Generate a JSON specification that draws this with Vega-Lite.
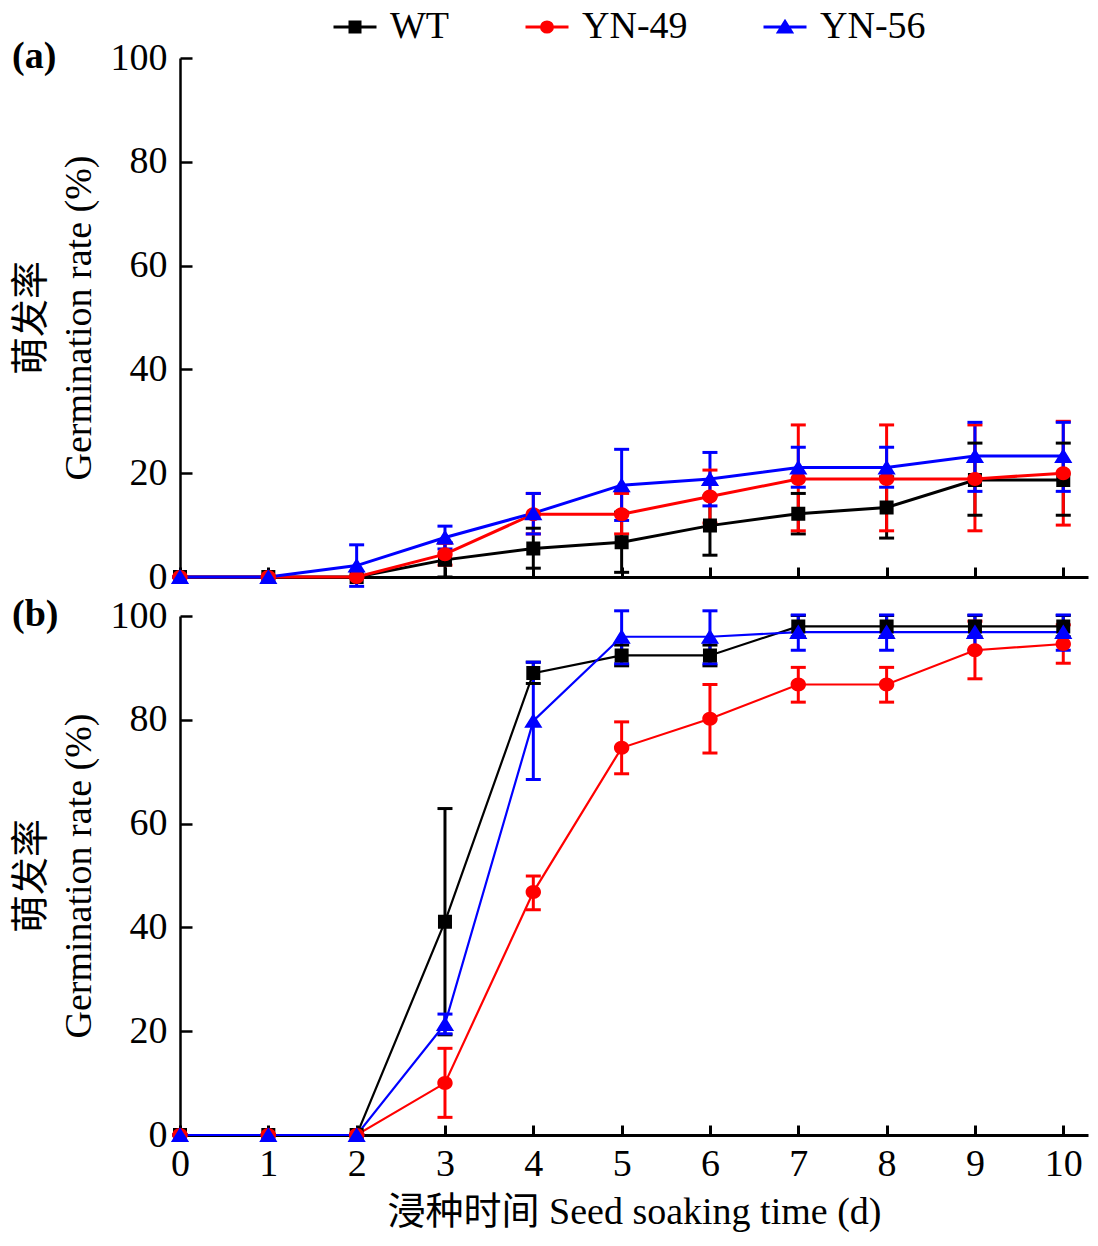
{
  "$schema": "https://vega.github.io/schema/vega-lite/v6.json",
  "background": "white",
  "padding": {"left": 12, "top": 8, "right": 5, "bottom": 5},
  "bounds": "flush",
  "spacing": 39,
  "datasets": {
    "a": [
      {"day": 0, "series": "WT", "rate": 0, "lo": 0, "hi": 0},
      {"day": 1, "series": "WT", "rate": 0, "lo": 0, "hi": 0},
      {"day": 2, "series": "WT", "rate": 0, "lo": 0, "hi": 0},
      {"day": 3, "series": "WT", "rate": 3.3, "lo": 0, "hi": 6.6},
      {"day": 4, "series": "WT", "rate": 5.5, "lo": 1.7, "hi": 9.4},
      {"day": 5, "series": "WT", "rate": 6.7, "lo": 0.9, "hi": 12.5},
      {"day": 6, "series": "WT", "rate": 9.9, "lo": 4.2, "hi": 15.6},
      {"day": 7, "series": "WT", "rate": 12.2, "lo": 8.3, "hi": 16.1},
      {"day": 8, "series": "WT", "rate": 13.4, "lo": 7.5, "hi": 19.3},
      {"day": 9, "series": "WT", "rate": 18.7, "lo": 11.9, "hi": 25.8},
      {"day": 10, "series": "WT", "rate": 18.7, "lo": 11.9, "hi": 25.8},
      {"day": 0, "series": "YN-49", "rate": 0, "lo": 0, "hi": 0},
      {"day": 1, "series": "YN-49", "rate": 0, "lo": 0, "hi": 0},
      {"day": 2, "series": "YN-49", "rate": 0, "lo": 0, "hi": 0},
      {"day": 3, "series": "YN-49", "rate": 4.4, "lo": 2.3, "hi": 6.5},
      {"day": 4, "series": "YN-49", "rate": 12.1, "lo": 8.3, "hi": 16.1},
      {"day": 5, "series": "YN-49", "rate": 12.1, "lo": 8.3, "hi": 16.1},
      {"day": 6, "series": "YN-49", "rate": 15.5, "lo": 10.4, "hi": 20.6},
      {"day": 7, "series": "YN-49", "rate": 18.9, "lo": 8.9, "hi": 29.3},
      {"day": 8, "series": "YN-49", "rate": 18.9, "lo": 8.9, "hi": 29.3},
      {"day": 9, "series": "YN-49", "rate": 18.9, "lo": 8.9, "hi": 29.3},
      {"day": 10, "series": "YN-49", "rate": 20.0, "lo": 10.0, "hi": 30.0},
      {"day": 0, "series": "YN-56", "rate": 0, "lo": 0, "hi": 0},
      {"day": 1, "series": "YN-56", "rate": 0, "lo": 0, "hi": 0},
      {"day": 2, "series": "YN-56", "rate": 2.2, "lo": -1.8, "hi": 6.2},
      {"day": 3, "series": "YN-56", "rate": 7.6, "lo": 5.4, "hi": 9.8},
      {"day": 4, "series": "YN-56", "rate": 12.3, "lo": 8.3, "hi": 16.1},
      {"day": 5, "series": "YN-56", "rate": 17.7, "lo": 10.9, "hi": 24.6},
      {"day": 6, "series": "YN-56", "rate": 18.9, "lo": 13.7, "hi": 24.0},
      {"day": 7, "series": "YN-56", "rate": 21.1, "lo": 17.3, "hi": 25.0},
      {"day": 8, "series": "YN-56", "rate": 21.1, "lo": 17.3, "hi": 25.0},
      {"day": 9, "series": "YN-56", "rate": 23.3, "lo": 16.5, "hi": 29.8},
      {"day": 10, "series": "YN-56", "rate": 23.3, "lo": 16.5, "hi": 29.8}
    ],
    "b": [
      {"day": 0, "series": "WT", "rate": 0, "lo": 0, "hi": 0},
      {"day": 1, "series": "WT", "rate": 0, "lo": 0, "hi": 0},
      {"day": 2, "series": "WT", "rate": 0, "lo": 0, "hi": 0},
      {"day": 3, "series": "WT", "rate": 41.1, "lo": 19.3, "hi": 62.9},
      {"day": 4, "series": "WT", "rate": 89.0, "lo": 87.0, "hi": 91.1},
      {"day": 5, "series": "WT", "rate": 92.4, "lo": 90.4, "hi": 94.4},
      {"day": 6, "series": "WT", "rate": 92.4, "lo": 90.4, "hi": 94.4},
      {"day": 7, "series": "WT", "rate": 98.0, "lo": 96.0, "hi": 100.1},
      {"day": 8, "series": "WT", "rate": 98.0, "lo": 96.0, "hi": 100.1},
      {"day": 9, "series": "WT", "rate": 98.0, "lo": 96.0, "hi": 100.1},
      {"day": 10, "series": "WT", "rate": 98.0, "lo": 96.0, "hi": 100.1},
      {"day": 0, "series": "YN-49", "rate": 0, "lo": 0, "hi": 0},
      {"day": 1, "series": "YN-49", "rate": 0, "lo": 0, "hi": 0},
      {"day": 2, "series": "YN-49", "rate": 0, "lo": 0, "hi": 0},
      {"day": 3, "series": "YN-49", "rate": 10.0, "lo": 3.4, "hi": 16.7},
      {"day": 4, "series": "YN-49", "rate": 46.8, "lo": 43.4, "hi": 49.9},
      {"day": 5, "series": "YN-49", "rate": 74.6, "lo": 69.6, "hi": 79.6},
      {"day": 6, "series": "YN-49", "rate": 80.2, "lo": 73.6, "hi": 86.8},
      {"day": 7, "series": "YN-49", "rate": 86.8, "lo": 83.4, "hi": 90.1},
      {"day": 8, "series": "YN-49", "rate": 86.8, "lo": 83.4, "hi": 90.1},
      {"day": 9, "series": "YN-49", "rate": 93.4, "lo": 87.9, "hi": 99.0},
      {"day": 10, "series": "YN-49", "rate": 94.6, "lo": 90.9, "hi": 98.3},
      {"day": 0, "series": "YN-56", "rate": 0, "lo": 0, "hi": 0},
      {"day": 1, "series": "YN-56", "rate": 0, "lo": 0, "hi": 0},
      {"day": 2, "series": "YN-56", "rate": 0, "lo": 0, "hi": 0},
      {"day": 3, "series": "YN-56", "rate": 21.4, "lo": 19.5, "hi": 23.3},
      {"day": 4, "series": "YN-56", "rate": 79.8, "lo": 68.5, "hi": 91.1},
      {"day": 5, "series": "YN-56", "rate": 96.0, "lo": 90.8, "hi": 101.0},
      {"day": 6, "series": "YN-56", "rate": 96.0, "lo": 90.8, "hi": 101.0},
      {"day": 7, "series": "YN-56", "rate": 96.9, "lo": 93.4, "hi": 100.2},
      {"day": 8, "series": "YN-56", "rate": 96.9, "lo": 93.4, "hi": 100.2},
      {"day": 9, "series": "YN-56", "rate": 96.9, "lo": 93.4, "hi": 100.2},
      {"day": 10, "series": "YN-56", "rate": 96.9, "lo": 93.4, "hi": 100.2}
    ]
  },
  "vconcat": [
    {
      "data": {"name": "a"},
      "width": 908,
      "height": 519,
      "title": {"text": "(a)", "orient": "top", "anchor": "start", "frame": "bounds", "baseline": "middle", "offset": -56, "fontSize": 38, "fontWeight": "bold", "font": "Liberation Serif", "color": "black"},
      "encoding": {
        "x": {"field": "day", "type": "quantitative", "scale": {"domain": [0, 10.28], "nice": false, "zero": false},
              "axis": {"values": [0,1,2,3,4,5,6,7,8,9,10], "labels": false, "title": null, "tickSize": -10, "domainWidth": 3, "tickWidth": 3}}
      },
      "layer": [
        {"mark": {"type": "rule", "strokeWidth": 3},
         "encoding": {"y": {"field": "lo", "type": "quantitative"}, "y2": {"field": "hi"},
                      "stroke": {"field": "series", "type": "nominal", "scale": {"domain": ["WT", "YN-49", "YN-56"], "range": ["#000000", "#ff0000", "#0000ff"]}, "legend": null}}},
        {"mark": {"type": "tick", "orient": "horizontal", "size": 15, "thickness": 3, "opacity": 1},
         "encoding": {"y": {"field": "lo", "type": "quantitative"}, "fill": {"field": "series", "type": "nominal", "scale": {"domain": ["WT", "YN-49", "YN-56"], "range": ["#000000", "#ff0000", "#0000ff"]}, "legend": null}}},
        {"mark": {"type": "tick", "orient": "horizontal", "size": 15, "thickness": 3, "opacity": 1},
         "encoding": {"y": {"field": "hi", "type": "quantitative"}, "fill": {"field": "series", "type": "nominal", "legend": null}}},
        {"mark": {"type": "line", "strokeWidth": 3},
         "encoding": {"y": {"field": "rate", "type": "quantitative"}, "stroke": {"field": "series", "type": "nominal", "legend": null}}},
        {"mark": {"type": "point", "filled": true, "strokeWidth": 0, "opacity": 1, "size": 196},
         "encoding": {
           "y": {"field": "rate", "type": "quantitative",
                 "scale": {"domain": [0, 100], "nice": false},
                 "axis": {"values": [0,20,40,60,80,100], "title": ["萌发率", "Germination rate (%)"], "tickSize": -12, "labelPadding": 25}},
           "color": {"field": "series", "type": "nominal",
                     "scale": {"range": ["#000000", "#ff0000", "#0000ff"]},
                     "legend": {"orient": "none", "legendX": 156, "legendY": -50, "direction": "horizontal", "title": null,
                                "symbolSize": 100, "symbolStrokeWidth": 3, "symbolOpacity": 1, "labelFontSize": 38,
                                "labelFont": "Liberation Serif", "labelColor": "black", "labelOffset": 16, "columnPadding": 69, "padding": 0,
                                "encode": {"symbols": {"update": {"stroke": {"scale": "color", "field": "value"}}}}}},
           "shape": {"field": "series", "type": "nominal",
                     "scale": {"range": ["M-4.3,0H4.3M-1,-1H1V1H-1Z",
                                         "M-4.3,0H4.3M-1.1,0A1.1,1,0,1,0,1.1,0A1.1,1,0,1,0,-1.1,0Z",
                                         "M-4.3,0H4.3M0,-1.1L1.3,1H-1.3Z"]}}
         }}
      ]
    },
    {
      "data": {"name": "b"},
      "width": 908,
      "height": 519,
      "title": {"text": "(b)", "orient": "top", "anchor": "start", "frame": "bounds", "baseline": "middle", "offset": -56, "fontSize": 38, "fontWeight": "bold", "font": "Liberation Serif", "color": "black"},
      "encoding": {
        "x": {"field": "day", "type": "quantitative", "scale": {"domain": [0, 10.28], "nice": false, "zero": false},
              "axis": {"values": [0,1,2,3,4,5,6,7,8,9,10], "title": "浸种时间 Seed soaking time (d)", "tickSize": -10, "labelPadding": 20, "labelFlush": false, "titlePadding": 10, "domainWidth": 3, "tickWidth": 3}}
      },
      "layer": [
        {"mark": {"type": "rule", "strokeWidth": 3},
         "encoding": {"y": {"field": "lo", "type": "quantitative"}, "y2": {"field": "hi"},
                      "stroke": {"field": "series", "type": "nominal", "legend": null}}},
        {"mark": {"type": "tick", "orient": "horizontal", "size": 15, "thickness": 3, "opacity": 1},
         "encoding": {"y": {"field": "lo", "type": "quantitative"}, "fill": {"field": "series", "type": "nominal", "legend": null}}},
        {"mark": {"type": "tick", "orient": "horizontal", "size": 15, "thickness": 3, "opacity": 1},
         "encoding": {"y": {"field": "hi", "type": "quantitative"}, "fill": {"field": "series", "type": "nominal", "legend": null}}},
        {"mark": {"type": "line", "strokeWidth": 2.2},
         "encoding": {"y": {"field": "rate", "type": "quantitative"}, "stroke": {"field": "series", "type": "nominal", "legend": null}}},
        {"mark": {"type": "point", "filled": true, "strokeWidth": 0, "opacity": 1, "size": 196},
         "encoding": {
           "y": {"field": "rate", "type": "quantitative",
                 "scale": {"domain": [0, 100], "nice": false},
                 "axis": {"values": [0,20,40,60,80,100], "title": ["萌发率", "Germination rate (%)"], "tickSize": -12, "labelPadding": 25}},
           "color": {"field": "series", "type": "nominal"},
           "shape": {"field": "series", "type": "nominal"}
         }}
      ]
    }
  ],
  "config": {
    "font": "Liberation Serif",
    "view": {"stroke": null},
    "axis": {
      "grid": false,
      "domainColor": "black",
      "domainWidth": 2.5,
      "tickColor": "black",
      "tickWidth": 2.5,
      "labelFont": "Liberation Serif",
      "labelFontSize": 38,
      "labelColor": "black",
      "titleFont": "Liberation Serif, Noto Sans CJK SC",
      "titleFontSize": 38,
      "titleFontWeight": "normal",
      "titleColor": "black",
      "titleLineHeight": 48,
      "titlePadding": 12
    }
  }
}
